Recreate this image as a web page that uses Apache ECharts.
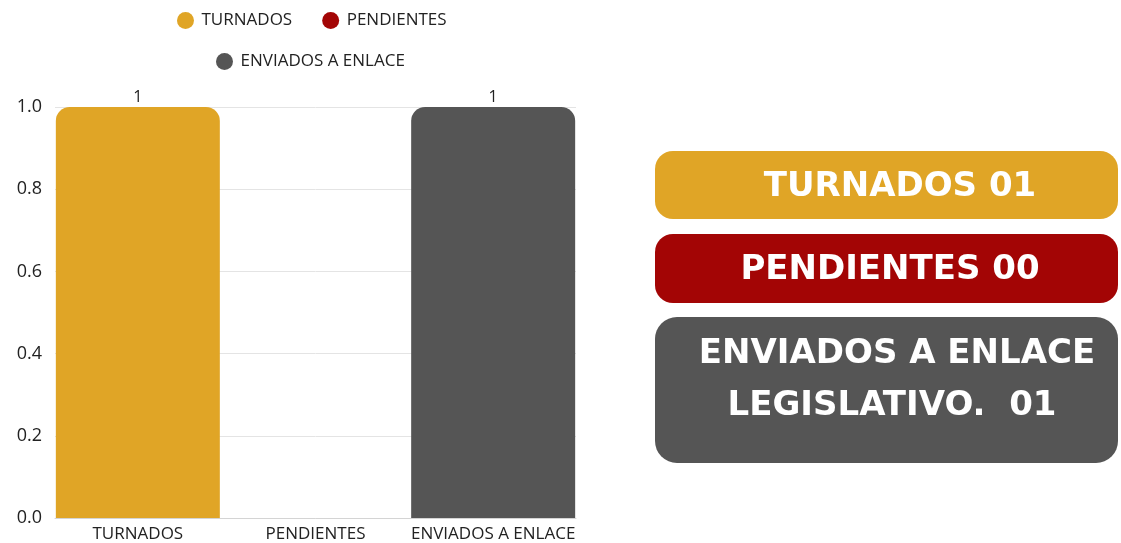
<!DOCTYPE html>
<html>
<head>
<meta charset="utf-8">
<script src="https://cdn.jsdelivr.net/npm/echarts@6/dist/echarts.min.js"></script>
<style>
html,body{margin:0;padding:0;background:#fff;}
#c{width:1121px;height:543px;}
</style>
</head>
<body>
<div id="c"></div>
<script>
const categories = ['TURNADOS', 'PENDIENTES', 'ENVIADOS A ENLACE'];
const seriesNames = ['TURNADOS', 'PENDIENTES', 'ENVIADOS A ENLACE'];
const turnados = [1, null, null];
const pendientes = [null, 0, null];
const enviados = [null, null, 1];
const colors = ['#E0A526', '#A30505', '#555555'];
const boxTexts = ['TURNADOS 01', 'PENDIENTES 00', 'ENVIADOS A ENLACE', 'LEGISLATIVO.  01'];

const chart = echarts.init(document.getElementById('c'), null, {renderer: 'canvas'});
const font = '"Open Sans", sans-serif';
const mkSeries = (name, data, color) => ({
  name: name, type: 'bar', data: data, barGap: '-100%', barWidth: 164,
  xAxisIndex: 1, yAxisIndex: 1,
  itemStyle: {color: color, borderRadius: [14, 14, 0, 0]},
  label: {show: true, position: 'top', distance: 2, color: '#222', fontSize: 16, fontFamily: font,
    formatter: p => (p.value ? String(p.value) : '')},
  emphasis: {disabled: true}
});
const textStyle = {fill: '#fff', font: 'bold 34px "DejaVu Sans"', align: 'center', verticalAlign: 'middle'};
const legendText = {fontSize: 17, color: '#222', fontFamily: font};

chart.setOption({
  animation: false,
  legend: [
    {data: [seriesNames[0], seriesNames[1]], left: 172, top: 7, itemWidth: 22, itemHeight: 17, icon: 'circle', itemGap: 30,
     textStyle: legendText, selectedMode: false},
    {data: [seriesNames[2]], left: 211, top: 48, itemWidth: 22, itemHeight: 17, icon: 'circle',
     textStyle: legendText, selectedMode: false}
  ],
  grid: [
    {left: 55, right: 545, top: 107, bottom: 25},
    {left: 49, right: 539, top: 107, bottom: 25}
  ],
  xAxis: [
    {type: 'category', gridIndex: 0, data: categories,
     axisLine: {lineStyle: {color: '#d4d4d4'}}, axisTick: {show: false}, axisLabel: {show: false}},
    {type: 'category', gridIndex: 1, data: categories,
     axisLine: {show: false}, axisTick: {show: false},
     axisLabel: {color: '#222', fontSize: 17, fontFamily: font, margin: 8, interval: 0}}
  ],
  yAxis: [
    {type: 'value', gridIndex: 0, min: 0, max: 1, interval: 0.2,
     axisLabel: {color: '#222', fontSize: 18, fontFamily: font, margin: 13, formatter: v => v.toFixed(1)},
     splitLine: {lineStyle: {color: '#e4e4e4'}},
     axisLine: {show: false}, axisTick: {show: false}},
    {type: 'value', gridIndex: 1, min: 0, max: 1, interval: 0.2,
     axisLabel: {show: false}, splitLine: {show: false}, axisLine: {show: false}, axisTick: {show: false}}
  ],
  series: [
    mkSeries(seriesNames[0], turnados, colors[0]),
    mkSeries(seriesNames[1], pendientes, colors[1]),
    mkSeries(seriesNames[2], enviados, colors[2])
  ],
  graphic: [
    {type: 'rect', shape: {x: 655, y: 151, width: 463, height: 68, r: 18}, style: {fill: colors[0]}},
    {type: 'rect', shape: {x: 655, y: 234, width: 463, height: 69, r: 18}, style: {fill: colors[1]}},
    {type: 'rect', shape: {x: 655, y: 317, width: 463, height: 146, r: 22}, style: {fill: colors[2]}},
    {type: 'text', x: 900, y: 187, style: Object.assign({text: boxTexts[0]}, textStyle)},
    {type: 'text', x: 890, y: 270, style: Object.assign({text: boxTexts[1]}, textStyle)},
    {type: 'text', x: 897, y: 354, style: Object.assign({text: boxTexts[2]}, textStyle)},
    {type: 'text', x: 892, y: 406, style: Object.assign({text: boxTexts[3]}, textStyle)}
  ]
});
</script>
</body>
</html>
